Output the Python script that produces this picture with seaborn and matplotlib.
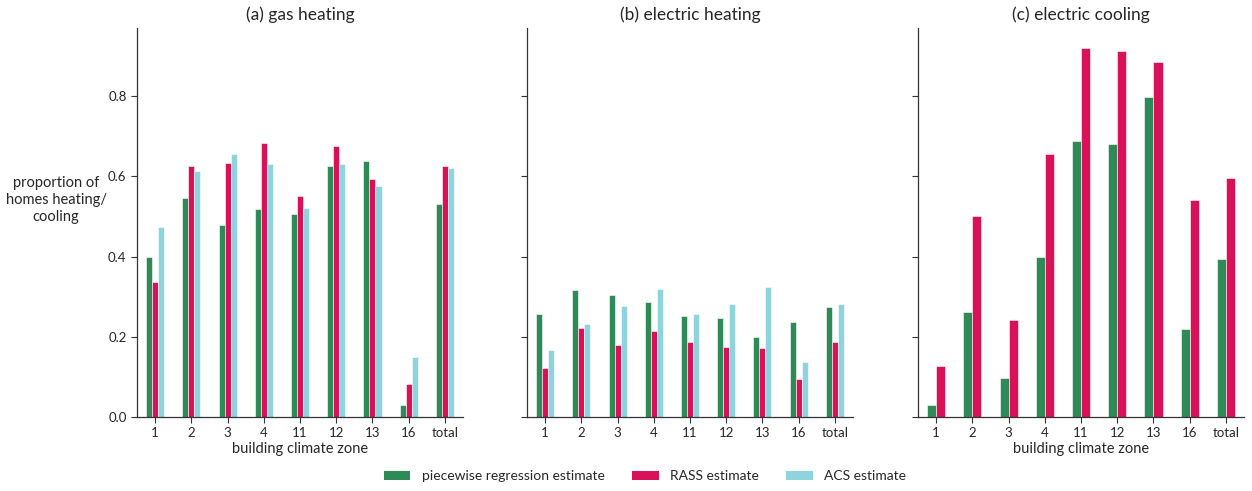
import matplotlib
matplotlib.use("Agg")
import matplotlib.pyplot as plt
import seaborn as sns
import pandas as pd
from matplotlib.patches import Patch

zones = ["1", "2", "3", "4", "11", "12", "13", "16", "total"]
sources = ["piecewise regression estimate", "RASS estimate", "ACS estimate"]
colors = ["#2e8b57", "#d81159", "#8fd3dc"]

gas_piecewise = [0.40, 0.546, 0.479, 0.519, 0.505, 0.625, 0.638, 0.030, 0.530]
gas_rass      = [0.336, 0.625, 0.634, 0.683, 0.550, 0.675, 0.593, 0.082, 0.627]
gas_acs       = [0.473, 0.614, 0.655, 0.631, 0.521, 0.632, 0.575, 0.150, 0.620]

eh_piecewise = [0.258, 0.316, 0.303, 0.286, 0.252, 0.246, 0.199, 0.238, 0.275]
eh_rass      = [0.121, 0.221, 0.180, 0.214, 0.186, 0.174, 0.171, 0.096, 0.186]
eh_acs       = [0.168, 0.231, 0.277, 0.318, 0.258, 0.283, 0.324, 0.136, 0.281]

ec_piecewise = [0.029, 0.263, 0.097, 0.398, 0.687, 0.681, 0.798, 0.219, 0.393]
ec_rass      = [0.126, 0.500, 0.243, 0.656, 0.920, 0.912, 0.884, 0.540, 0.596]

titles = ["(a) gas heating", "(b) electric heating", "(c) electric cooling"]
yticks = [0.0, 0.2, 0.4, 0.6, 0.8]


def long_df(series):
    rows = []
    for src, vals in series:
        for z, v in zip(zones, vals):
            rows.append({"zone": z, "value": v, "source": src})
    return pd.DataFrame(rows)


panels = [
    long_df([(sources[0], gas_piecewise), (sources[1], gas_rass), (sources[2], gas_acs)]),
    long_df([(sources[0], eh_piecewise), (sources[1], eh_rass), (sources[2], eh_acs)]),
    long_df([(sources[0], ec_piecewise), (sources[1], ec_rass)]),
]

sns.set_theme(style="ticks")
plt.rcParams["font.family"] = ["Lato", "DejaVu Sans"]

fig = plt.figure(figsize=(12.52, 4.91), dpi=100)
lefts = [137 / 1252, 527 / 1252, 918 / 1252]
bottom = 1 - 417 / 491
height = (417 - 28) / 491
width = 326 / 1252

for i, (df, title) in enumerate(zip(panels, titles)):
    ax = fig.add_axes([lefts[i], bottom, width, height])
    present = [s for s in sources if s in set(df["source"])]
    pal = [colors[sources.index(s)] for s in present]
    sns.barplot(data=df, x="zone", y="value", hue="source", order=zones,
                hue_order=present, palette=pal, width=0.5, ax=ax,
                legend=False, edgecolor="white", linewidth=0.4, saturation=1)
    ax.set_ylim(0, 0.97)
    ax.set_xlim(-0.5, 8.5)
    ax.set_yticks(yticks)
    ax.set_title(title, fontsize=12.5, pad=6)
    ax.set_ylabel("")
    if i != 1:
        ax.set_xlabel("building climate zone", fontsize=10.5, labelpad=2)
    else:
        ax.set_xlabel("")
    ax.tick_params(axis="both", labelsize=9.5, length=4, width=0.8, color="#333333")
    if i == 0:
        ax.set_yticklabels([f"{t:.1f}" for t in yticks])
    else:
        ax.tick_params(labelleft=False)
    for s in ["top", "right"]:
        ax.spines[s].set_visible(False)
    for s in ["left", "bottom"]:
        ax.spines[s].set_color("#333333")
        ax.spines[s].set_linewidth(0.9)

fig.text(56 / 1252, 1 - 200 / 491, "proportion of\nhomes heating/\ncooling",
         ha="center", va="center", fontsize=10.5, linespacing=1.3)

handles = [Patch(facecolor=c, edgecolor="none") for c in colors]
fig.legend(handles, sources, loc="center", bbox_to_anchor=(645 / 1252, 1 - 476 / 491),
           ncol=3, frameon=False, fontsize=10, handlelength=1.9, handleheight=0.6,
           handletextpad=0.8, columnspacing=2.0)

fig.savefig("out.png", dpi=100)
